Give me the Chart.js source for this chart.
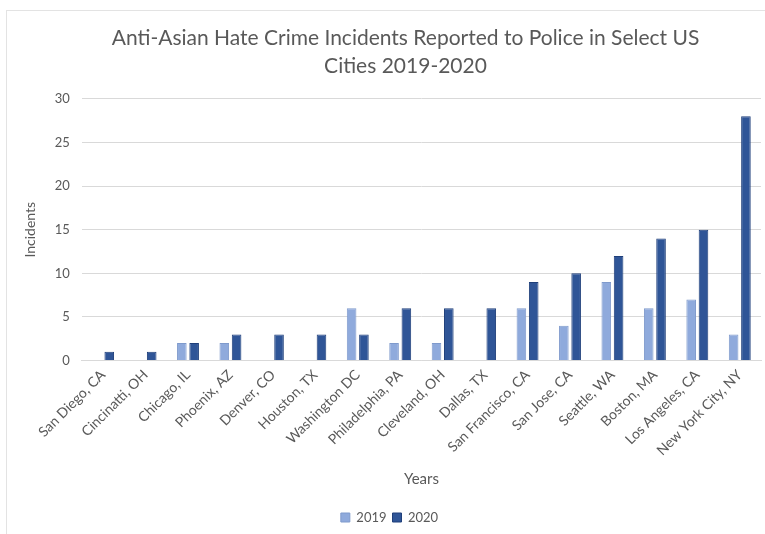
<!DOCTYPE html>
<html>
<head>
<meta charset="utf-8">
<script src="https://cdn.jsdelivr.net/npm/chart.js@4.4.0/dist/chart.umd.min.js"></script>
<style>
  html, body { margin: 0; padding: 0; background: #fff; }
  #wrap { position: relative; width: 765px; height: 534px; }
  #frame { position: absolute; left: 6px; top: 10px; width: 770px; height: 540px; border: 1px solid #e3e3e3; box-sizing: border-box; }
  canvas { position: absolute; left: 0; top: 0; }
</style>
</head>
<body>
<div id="wrap">
  <div id="frame"></div>
  <canvas id="c" width="765" height="534"></canvas>
</div>
<script>
const cities = ["San Diego, CA", "Cincinatti, OH", "Chicago, IL", "Phoenix, AZ", "Denver, CO", "Houston, TX", "Washington DC", "Philadelphia, PA", "Cleveland, OH", "Dallas, TX", "San Francisco, CA", "San Jose, CA", "Seattle, WA", "Boston, MA", "Los Angeles, CA", "New York City, NY"];
const values2019 = [0, 0, 2, 2, 0, 0, 6, 2, 2, 0, 6, 4, 9, 6, 7, 3];
const values2020 = [1, 1, 2, 3, 3, 3, 3, 6, 6, 6, 9, 10, 12, 14, 15, 28];
const seriesNames = ["2019", "2020"];
const yTicks = [0, 5, 10, 15, 20, 25, 30];

const FONT = "Lato, 'Open Sans', sans-serif";
const GRAY = "#595959";

const shiftTitle = {
  id: "shiftTitle",
  afterLayout(chart) {
    const t = chart.titleBlock;
    if (t) { t.left += 16; t.right += 16; }
  }
};

new Chart(document.getElementById("c"), {
  type: "bar",
  data: {
    labels: cities,
    datasets: [
      { label: seriesNames[0], data: values2019, backgroundColor: "#8FAADC", borderColor: "#7F9ACC", borderWidth: 1, categoryPercentage: 0.58, barPercentage: 0.78 },
      { label: seriesNames[1], data: values2020, backgroundColor: "#2F5597", borderColor: "#1F3F7A", borderWidth: 1, categoryPercentage: 0.58, barPercentage: 0.78 }
    ]
  },
  plugins: [shiftTitle],
  options: {
    responsive: false,
    animation: false,
    layout: { padding: { left: 18, right: 4, top: 16, bottom: 0 } },
    plugins: {
      title: {
        display: true,
        text: ["Anti-Asian Hate Crime Incidents Reported to Police in Select US", "Cities 2019-2020"],
        color: GRAY,
        font: { family: FONT, size: 21, weight: "normal", lineHeight: 1.33 },
        padding: { top: 8, bottom: 19 }
      },
      legend: {
        position: "bottom",
        labels: {
          color: GRAY,
          font: { family: FONT, size: 13 },
          boxWidth: 9, boxHeight: 9, padding: 6
        }
      },
      tooltip: { enabled: false }
    },
    scales: {
      x: {
        grid: { display: false, drawTicks: false },
        border: { display: true, color: "#D9D9D9" },
        ticks: { color: GRAY, font: { family: FONT, size: 14 }, minRotation: 45, maxRotation: 45, autoSkip: false, padding: 6 },
        title: { display: true, text: "Years", color: GRAY, font: { family: FONT, size: 15 }, padding: { top: 5, bottom: 17 } }
      },
      y: {
        min: 0, max: 30,
        afterBuildTicks: (s) => { s.ticks = yTicks.map(v => ({ value: v })); },
        grid: { color: "#D9D9D9", drawTicks: false },
        border: { display: false },
        ticks: { color: GRAY, font: { family: FONT, size: 13 }, padding: 12 },
        title: { display: true, text: "Incidents", color: GRAY, font: { family: FONT, size: 14 }, padding: { bottom: 4 } }
      }
    }
  }
});
</script>
</body>
</html>
